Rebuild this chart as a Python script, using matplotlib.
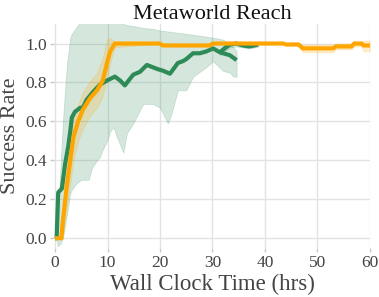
import matplotlib
matplotlib.use("Agg")
import matplotlib.pyplot as plt

# ---- data ----
green_x = [0.0, 0.3, 0.4, 0.6, 1.3, 1.9, 2.5, 2.9, 3.2, 3.8, 4.8, 5.3, 6.0, 7.2, 8.6,
           9.9, 11.4, 12.4, 13.3, 14.9, 16.2, 17.5, 19.4, 20.6, 21.9, 23.4, 24.4, 25.0,
           26.3, 27.6, 28.9, 30.1, 31.4, 32.0, 33.3, 34.6]
green_y = [0.0, 0.0, 0.08, 0.235, 0.255, 0.38, 0.47, 0.55, 0.62, 0.65, 0.67, 0.67, 0.71,
           0.75, 0.79, 0.81, 0.83, 0.81, 0.785, 0.84, 0.855, 0.89, 0.87, 0.86, 0.845, 0.90,
           0.91, 0.92, 0.95, 0.95, 0.96, 0.975, 0.955, 0.95, 0.94, 0.915]

green_tail_x = [31.4, 32.3, 33.3, 34.5, 35.8, 37.0, 38.0, 38.7]
green_tail_y = [0.955, 0.975, 0.995, 1.0, 0.99, 0.985, 0.99, 0.995]

green_band_x = [0.0, 0.3, 0.5, 1.0, 1.5, 2.0, 2.3, 2.9, 3.2, 4.0, 5.0, 6.4, 7.0, 8.0,
                8.6, 9.0, 9.9, 10.5, 11.1, 11.8, 13.0, 13.7, 14.9, 16.8, 18.7, 20.0,
                21.5, 22.2, 23.4, 25.0, 26.3, 28.9, 30.1, 32.0, 33.3, 34.0, 34.6]
green_band_hi = [0.0, 0.02, 0.1, 0.35, 0.6, 0.8, 0.9, 1.03, 1.05, 1.08, 1.12, 1.13, 1.13,
                 1.13, 1.13, 1.13, 1.13, 1.13, 1.13, 1.12, 1.1, 1.095, 1.09, 1.08, 1.075,
                 1.067, 1.062, 1.06, 1.055, 1.05, 1.045, 1.035, 1.03, 1.02, 1.0, 0.98, 0.96]
green_band_lo = [0.0, 0.0, -0.04, -0.03, 0.0, 0.08, 0.13, 0.23, 0.25, 0.28, 0.30, 0.30,
                 0.36, 0.40, 0.42, 0.45, 0.50, 0.55, 0.57, 0.52, 0.44, 0.54, 0.59, 0.69,
                 0.69, 0.67, 0.59, 0.64, 0.76, 0.76, 0.83, 0.88, 0.91, 0.86, 0.85, 0.83, 0.83]

green_tail_lo = [0.94, 0.96, 0.98, 0.985, 0.98, 0.975, 0.98, 0.985]
green_tail_hi = [0.97, 0.99, 1.005, 1.01, 1.0, 0.995, 1.0, 1.005]

orange_x = [0.0, 1.2, 1.5, 2.2, 2.9, 3.5, 4.4, 5.3, 6.7, 8.0, 9.1, 9.9, 10.5, 11.4,
            20.0, 20.5, 29.5, 30.0, 43.5, 44.0, 46.4, 47.2, 53.0, 53.5, 56.5, 57.0,
            58.4, 58.8, 60.0]
orange_y = [0.0, 0.0, 0.09, 0.26, 0.40, 0.52, 0.60, 0.66, 0.72, 0.76, 0.81, 0.90, 0.96,
            1.0, 1.0, 0.99, 0.99, 1.0, 1.0, 0.995, 0.995, 0.975, 0.975, 0.985, 0.985,
            1.0, 1.0, 0.99, 0.99]
orange_lo = [0.0, 0.0, 0.02, 0.15, 0.28, 0.40, 0.50, 0.56, 0.63, 0.67, 0.73, 0.82, 0.90,
             0.98, 1.0, 0.99, 0.99, 1.0, 1.0, 0.99, 0.99, 0.955, 0.955, 0.97, 0.97,
             0.985, 0.985, 0.96, 0.96]
orange_hi = [0.0, 0.0, 0.16, 0.37, 0.52, 0.62, 0.69, 0.75, 0.81, 0.85, 0.93, 1.02, 1.03,
             1.01, 1.0, 0.99, 0.99, 1.0, 1.0, 1.0, 1.0, 0.995, 0.995, 1.0, 1.0,
             1.01, 1.01, 1.015, 1.015]

x_ticks = [0, 10, 20, 30, 40, 50, 60]
y_ticks = [0.0, 0.2, 0.4, 0.6, 0.8, 1.0]

GREEN = "#2e8b57"
ORANGE = "#ffa500"

plt.rcParams["font.family"] = ["Liberation Serif", "DejaVu Serif"]

fig = plt.figure(figsize=(3.79, 2.97), dpi=100)
ax = fig.add_axes([0.1425, 0.165, 0.8335, 0.754])

ax.fill_between(green_band_x, green_band_lo, green_band_hi, color=GREEN, alpha=0.2, lw=0.6)
ax.fill_between(green_tail_x, green_tail_lo, green_tail_hi, color=GREEN, alpha=0.2, lw=0.6)
ax.fill_between(orange_x, orange_lo, orange_hi, color=ORANGE, alpha=0.2, lw=0.6)

ax.plot(green_x, green_y, color=GREEN, lw=3, solid_capstyle="butt")
ax.plot(green_tail_x, green_tail_y, color=GREEN, lw=3, solid_capstyle="butt")
ax.plot(orange_x, orange_y, color=ORANGE, lw=3, solid_capstyle="butt")

ax.set_xlim(-0.2, 60)
ax.set_ylim(-0.05, 1.1)
ax.set_xticks(x_ticks)
ax.set_yticks(y_ticks)
ax.set_yticklabels([f"{v:.1f}" for v in y_ticks])

for s in ax.spines.values():
    s.set_visible(False)
ax.grid(True, color="#e3e3e3", lw=1.0)
ax.set_axisbelow(True)
ax.tick_params(axis="both", colors="#c8c8c8", labelcolor="#444444", labelsize=12.5,
               length=3, width=1, pad=2)

ax.set_xlabel("Wall Clock Time (hrs)", fontsize=16.5, color="#444444", labelpad=2)
ax.set_ylabel("Success Rate", fontsize=16, color="#444444", labelpad=4)
ax.set_title("Metaworld Reach", fontsize=16, color="#111111", pad=3)

fig.savefig("out.png", dpi=100)
